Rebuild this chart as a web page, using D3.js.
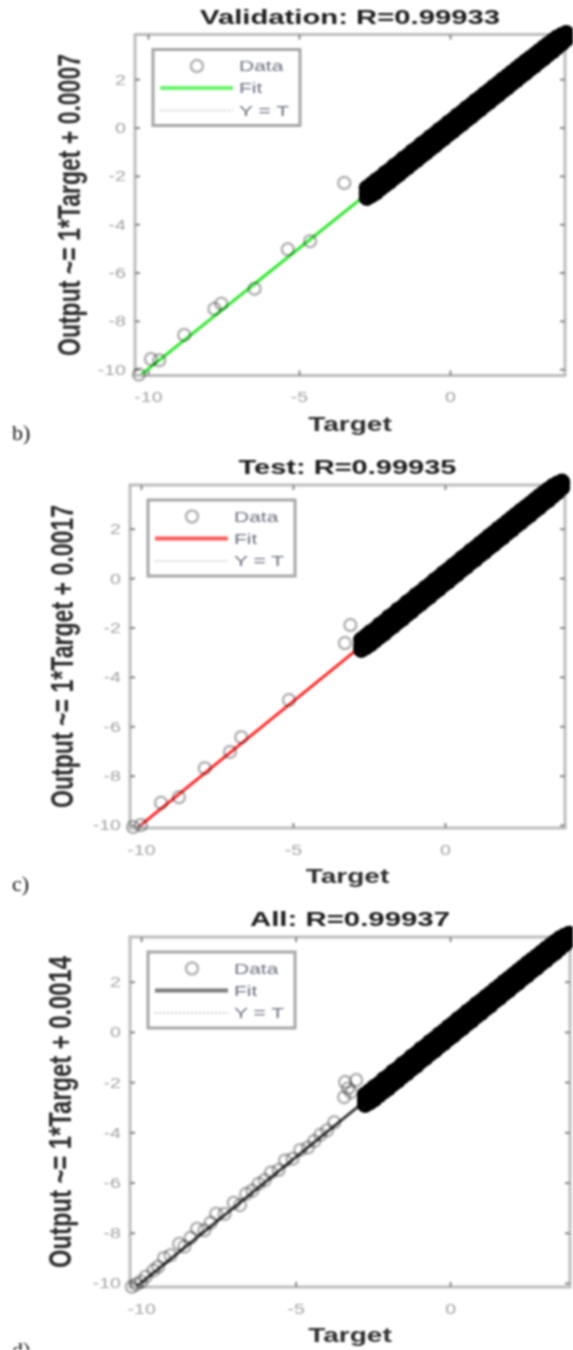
<!DOCTYPE html>
<html>
<head>
<meta charset="utf-8">
<script src="https://cdn.jsdelivr.net/npm/d3@7"></script>
<style>
  body { margin: 0; background: #fff; }
  svg { display: block; filter: blur(0.8px); }
</style>
</head>
<body>
<script>
const W = 573, H = 1350;
const sx = 1.4; // the source figure text is squeezed wide

const xTicks = [-10, -5, 0];
const yTicks = [-10, -8, -6, -4, -2, 0, 2];
const legendLabels = ["Data", "Fit", "Y = T"];
const panelLetters = ["b)", "c)", "d)"];
const titles = ["Validation: R=0.99933", "Test: R=0.99935", "All: R=0.99937"];
const fitSlope = [1, 1, 1];
const fitIntercept = [0.0007, 0.0017, 0.0014];

// dense cluster of points, same look in every panel
const bandTarget = [
  -2.75, -2.6, -2.45, -2.3, -2.15, -2.0, -1.85, -1.7, -1.55,
  -1.4, -1.25, -1.1, -0.95, -0.8, -0.65, -0.5, -0.35, -0.2,
  -0.05, 0.1, 0.25, 0.4, 0.55, 0.7, 0.85, 1.0, 1.15,
  1.3, 1.45, 1.6, 1.75, 1.9, 2.05, 2.2, 2.35, 2.5,
  2.65, 2.8, 2.95, 3.1, 3.25, 3.4, 3.55, 3.7, 3.85
];
const bandOutHigh = [
  -2.5, -2.36, -2.2, -2.08, -1.9, -1.78, -1.6, -1.48, -1.3,
  -1.18, -1.0, -0.88, -0.7, -0.58, -0.41, -0.28, -0.11, 0.02,
  0.19, 0.32, 0.49, 0.62, 0.79, 0.92, 1.09, 1.22, 1.38,
  1.52, 1.68, 1.82, 1.98, 2.12, 2.27, 2.42, 2.57, 2.72,
  2.86, 3.0, 3.15, 3.3, 3.44, 3.58, 3.72, 3.82, 3.9
];
const bandOutMid = [
  -2.72, -2.58, -2.46, -2.29, -2.16, -1.99, -1.86, -1.69, -1.56,
  -1.39, -1.26, -1.09, -0.96, -0.79, -0.66, -0.49, -0.36, -0.19,
  -0.06, 0.11, 0.24, 0.41, 0.54, 0.71, 0.84, 1.01, 1.14,
  1.31, 1.44, 1.61, 1.74, 1.91, 2.04, 2.21, 2.34, 2.51,
  2.64, 2.81, 2.94, 3.11, 3.24, 3.41, 3.54, 3.69, 3.82
];
const bandOutLow = [
  -2.9, -2.8, -2.68, -2.52, -2.37, -2.24, -2.07, -1.94, -1.77,
  -1.64, -1.47, -1.34, -1.17, -1.04, -0.87, -0.74, -0.57, -0.44,
  -0.27, -0.14, 0.03, 0.16, 0.33, 0.46, 0.63, 0.76, 0.93,
  1.06, 1.23, 1.36, 1.53, 1.66, 1.83, 1.96, 2.13, 2.26,
  2.43, 2.56, 2.73, 2.86, 3.03, 3.16, 3.33, 3.48, 3.66
];

// scattered points below the cluster
const valTarget = [-10.3, -9.9, -9.63, -8.8, -7.8, -7.57, -6.47, -5.37, -4.63, -3.5];
const valOutput = [-10.22, -9.58, -9.63, -8.58, -7.5, -7.29, -6.67, -5.04, -4.7, -2.29];

const testTarget = [-10.26, -10.0, -9.34, -8.75, -7.9, -7.07, -6.7, -5.13, -3.29, -3.11];
const testOutput = [-10.08, -10.0, -9.1, -8.87, -7.7, -7.04, -6.44, -4.94, -2.63, -1.9];

const allTarget = [-10.3, -10.15, -10.0, -9.85, -9.6, -9.45, -9.26, -9.05, -8.77, -8.6,
  -8.4, -8.19, -7.95, -7.75, -7.57, -7.3, -7.0, -6.8, -6.6, -6.4,
  -6.2, -6.0, -5.8, -5.55, -5.34, -5.1, -4.85, -4.6, -4.4, -4.2,
  -3.98, -3.75, -3.43, -3.4, -3.3, -3.2, -3.04];
const allOutput = [-10.15, -10.05, -9.95, -9.75, -9.5, -9.35, -9.0, -8.9, -8.44, -8.55,
  -8.2, -7.84, -7.9, -7.6, -7.24, -7.25, -6.8, -6.9, -6.45, -6.32,
  -6.05, -5.9, -5.6, -5.5, -5.12, -5.05, -4.7, -4.6, -4.35, -4.1,
  -3.92, -3.6, -2.6, -2.0, -2.25, -2.4, -1.92];

const fitColors = ["#2ee82e", "#ff2a2a", "#3a3a3a"];
const legendFitColors = ["#6af56a", "#ff5a5a", "#7a7a7a"];

const panels = [
  {target: valTarget, output: valOutput, left: 135, top: 34.5, right: 565, bottom: 375.5,
   xDomain: [-10.43, 3.81], yDomain: [-10.26, 3.85], titleW: 300, yLabX: 80, yLabLen: 302, letterY: 440},
  {target: testTarget, output: testOutput, left: 130, top: 485, right: 565, bottom: 828,
   xDomain: [-10.36, 3.95], yDomain: [-10.12, 3.77], titleW: 218, yLabX: 73, yLabLen: 303, letterY: 891},
  {target: allTarget, output: allOutput, left: 130, top: 937, right: 570, bottom: 1287,
   xDomain: [-10.36, 3.88], yDomain: [-10.16, 3.78], titleW: 200, yLabX: 71, yLabLen: 312, letterY: 1357}
];

const sans = "'Liberation Sans', Arial, sans-serif";

const svg = d3.select("body").append("svg")
  .attr("width", W).attr("height", H);

function styleAxis(sel) {
  sel.select(".domain").remove();
  sel.selectAll(".tick line").attr("stroke", "#878787").attr("stroke-width", 2);
  sel.selectAll("text")
    .attr("font-family", sans).attr("font-size", 14).attr("fill", "#a3a3a3");
}

panels.forEach((p, i) => {
  const x = d3.scaleLinear().domain(p.xDomain).range([p.left, p.right]);
  const y = d3.scaleLinear().domain(p.yDomain).range([p.bottom, p.top]);
  const g = svg.append("g");

  svg.append("clipPath").attr("id", "clip" + i)
    .append("rect")
    .attr("x", p.left).attr("y", p.top)
    .attr("width", p.right - p.left).attr("height", p.bottom - p.top);

  const line = d3.line().x(d => x(d[0])).y(d => y(d[1]));
  const ends = p.xDomain;

  // Y = T
  g.append("path")
    .attr("clip-path", `url(#clip${i})`)
    .attr("d", line(ends.map(t => [t, t])))
    .attr("fill", "none").attr("stroke", "#cfcfcf").attr("stroke-width", 2)
    .attr("stroke-dasharray", "2,2");

  // fit
  g.append("path")
    .attr("clip-path", `url(#clip${i})`)
    .attr("d", line(ends.map(t => [t, fitSlope[i] * t + fitIntercept[i]])))
    .attr("fill", "none").attr("stroke", fitColors[i]).attr("stroke-width", 3);

  // box
  g.append("rect")
    .attr("x", p.left).attr("y", p.top)
    .attr("width", p.right - p.left).attr("height", p.bottom - p.top)
    .attr("fill", "none").attr("stroke", "#bdbdbd").attr("stroke-width", 3);

  g.append("g").attr("transform", `translate(0,${p.bottom})`)
    .call(d3.axisBottom(x).tickValues(xTicks).tickSize(-5).tickFormat(d => String(d)))
    .call(styleAxis)
    .selectAll("text").attr("y", 27).attr("dy", null).attr("transform", `scale(${sx},1)`);
  g.append("g").attr("transform", `translate(0,${p.top})`)
    .call(d3.axisTop(x).tickValues(xTicks).tickSize(-5).tickFormat(""))
    .call(styleAxis);
  g.append("g").attr("transform", `translate(${p.left},0)`)
    .call(d3.axisLeft(y).tickValues(yTicks).tickSize(-5).tickFormat(d => String(d)))
    .call(styleAxis)
    .selectAll("text").attr("x", -9 / sx).attr("dy", "0.35em").attr("transform", `scale(${sx},1)`);
  g.append("g").attr("transform", `translate(${p.right},0)`)
    .call(d3.axisRight(y).tickValues(yTicks).tickSize(-5).tickFormat(""))
    .call(styleAxis);

  // scattered data
  g.append("g").selectAll("circle")
    .data(p.target.map((t, j) => [t, p.output[j]]))
    .join("circle")
    .attr("cx", d => x(d[0])).attr("cy", d => y(d[1])).attr("r", 6)
    .attr("fill", "none").attr("stroke", "#000").attr("stroke-opacity", 0.3)
    .attr("stroke-width", 2.5);

  // dense cluster
  [bandOutLow, bandOutMid, bandOutHigh].forEach(row => {
    g.append("g").selectAll("circle")
      .data(bandTarget.map((t, j) => [t, row[j]]))
      .join("circle")
      .attr("cx", d => x(d[0])).attr("cy", d => y(d[1])).attr("r", 6)
      .attr("fill", "none").attr("stroke", "#000").attr("stroke-width", 4.5);
  });

  // legend
  const lx = p.left + 18, ly = p.top + 15;
  const lg = g.append("g").attr("transform", `translate(${lx},${ly})`);
  lg.append("rect").attr("width", 147).attr("height", 76)
    .attr("fill", "#fff").attr("stroke", "#a6a6a6").attr("stroke-width", 3);
  const rows = [16.5, 38.5, 61];
  lg.append("circle").attr("cx", 44).attr("cy", rows[0]).attr("r", 6)
    .attr("fill", "none").attr("stroke", "#b4b4b4").attr("stroke-width", 2.5);
  lg.append("line").attr("x1", 7).attr("x2", 80).attr("y1", rows[1]).attr("y2", rows[1])
    .attr("stroke", legendFitColors[i]).attr("stroke-width", 4);
  lg.append("line").attr("x1", 7).attr("x2", 80).attr("y1", rows[2]).attr("y2", rows[2])
    .attr("stroke", "#d2d2d2").attr("stroke-width", 2).attr("stroke-dasharray", "2,2");
  legendLabels.forEach((lab, k) => {
    lg.append("text")
      .attr("transform", `translate(86,${rows[k] + 5}) scale(${sx},1)`)
      .attr("font-family", sans).attr("font-size", 15).attr("fill", "#6b7080")
      .text(lab);
  });

  // title
  const cx = (p.left + p.right) / 2;
  g.append("text")
    .attr("x", cx).attr("y", p.top - 11)
    .attr("text-anchor", "middle")
    .attr("font-family", sans).attr("font-size", 21).attr("font-weight", "bold")
    .attr("fill", "#1c1c1c")
    .attr("textLength", p.titleW).attr("lengthAdjust", "spacingAndGlyphs")
    .text(titles[i]);

  // x label
  g.append("text")
    .attr("transform", `translate(${cx},${p.bottom + 55}) scale(${sx},1)`)
    .attr("text-anchor", "middle")
    .attr("font-family", sans).attr("font-size", 20).attr("font-weight", "bold")
    .attr("fill", "#2e2e2e")
    .text("Target");

  // y label
  g.append("text")
    .attr("transform", `translate(${p.yLabX},${(p.top + p.bottom) / 2}) scale(${sx},1) rotate(-90)`)
    .attr("text-anchor", "middle")
    .attr("font-family", sans).attr("font-size", 22).attr("font-weight", "bold")
    .attr("fill", "#2a2a2a")
    .attr("textLength", p.yLabLen).attr("lengthAdjust", "spacingAndGlyphs")
    .text(`Output ~= ${fitSlope[i]}*Target + ${fitIntercept[i].toFixed(4)}`);

  // panel letter
  svg.append("text")
    .attr("x", 12).attr("y", p.letterY)
    .attr("font-family", "'Liberation Serif', 'Times New Roman', serif")
    .attr("font-size", 22).attr("fill", "#111")
    .text(panelLetters[i]);
});
</script>
</body>
</html>
